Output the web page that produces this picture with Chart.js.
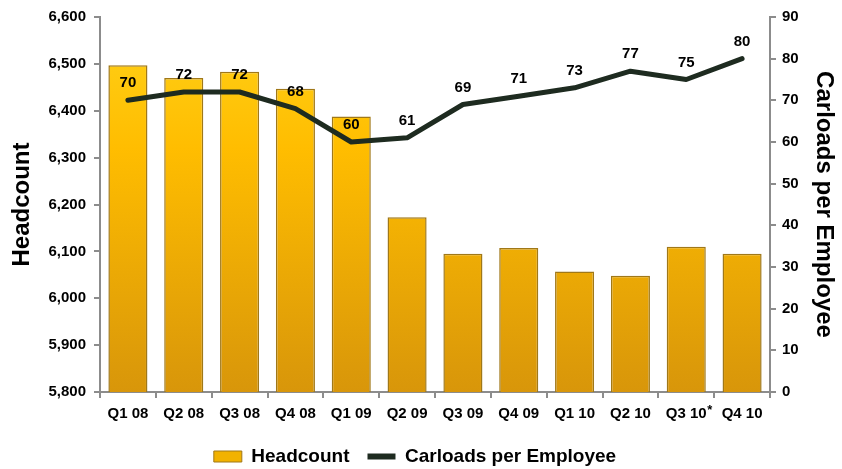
<!DOCTYPE html>
<html>
<head>
<meta charset="utf-8">
<script src="https://cdn.jsdelivr.net/npm/chart.js@4"></script>
<style>
  html, body { margin: 0; padding: 0; background: #fff; }
  #wrap { width: 842px; height: 469px; position: relative; }
</style>
</head>
<body>
<div id="wrap"><canvas id="chart"></canvas></div>
<script>
const quarters = ['Q1 08', 'Q2 08', 'Q3 08', 'Q4 08', 'Q1 09', 'Q2 09', 'Q3 09', 'Q4 09', 'Q1 10', 'Q2 10', 'Q3 10', 'Q4 10'];
const headcount = [6497, 6470, 6483, 6447, 6388, 6173, 6095, 6107, 6057, 6048, 6110, 6095];
const carloads = [70, 72, 72, 68, 60, 61, 69, 71, 73, 77, 75, 80];
const starredQuarter = 'Q3 10';

const FONT = '"Liberation Sans", Arial, sans-serif';

function barFill(ctx) {
    const area = ctx.chart.chartArea;
    if (!area) return '#F5B400';
    const g = ctx.chart.ctx.createLinearGradient(0, area.top, 0, area.bottom);
    g.addColorStop(0, '#FFD21A');
    g.addColorStop(0.35, '#FFBD00');
    g.addColorStop(1, '#D8960A');
    return g;
}

// numbers above the carloads line
const lineLabels = {
    id: 'lineLabels',
    afterDatasetsDraw(chart) {
        const meta = chart.getDatasetMeta(1);
        const c = chart.ctx;
        c.save();
        c.font = 'bold 15px ' + FONT;
        c.fillStyle = '#000';
        c.textAlign = 'center';
        c.textBaseline = 'middle';
        meta.data.forEach((pt, i) => {
            c.fillText(carloads[i], pt.x, pt.y - 17);
        });
        c.restore();
    }
};

// superscript asterisk on one quarter label
const starMark = {
    id: 'starMark',
    afterDraw(chart) {
        const x = chart.scales.x;
        const i = quarters.indexOf(starredQuarter);
        const c = chart.ctx;
        c.save();
        c.font = 'bold 13px ' + FONT;
        c.fillStyle = '#000';
        c.textAlign = 'left';
        c.fillText('*', x.getPixelForValue(i) + 21, x.top + 18);
        c.restore();
    }
};

// put the legend where the original one sits
const legendShift = {
    id: 'legendShift',
    afterLayout(chart) {
        const lg = chart.legend;
        const dy = 429 - lg.top;
        lg.top += dy; lg.bottom += dy;
        lg.left -= 6; lg.right -= 6;
    }
};

new Chart(document.getElementById('chart'), {
    type: 'bar',
    data: {
        labels: quarters,
        datasets: [{
            type: 'bar',
            label: 'Headcount',
            data: headcount,
            yAxisID: 'y',
            backgroundColor: barFill,
            borderColor: '#A07818',
            borderWidth: 1.5,
            barPercentage: 0.7,
            categoryPercentage: 1,
            order: 1
        }, {
            type: 'line',
            label: 'Carloads per Employee',
            data: carloads,
            yAxisID: 'y1',
            borderColor: '#1E2B20',
            backgroundColor: '#1E2B20',
            borderWidth: 5,
            borderCapStyle: 'round',
            borderJoinStyle: 'round',
            pointRadius: 0,
            tension: 0,
            order: 0
        }]
    },
    options: {
        responsive: true,
        maintainAspectRatio: false,
        animation: false,
        layout: { padding: { top: 2, left: 0, right: 0, bottom: 0 } },
        plugins: {
            tooltip: { enabled: false },
            legend: {
                position: 'bottom',
                labels: {
                    font: { family: FONT, size: 19, weight: 'bold' },
                    color: '#000',
                    usePointStyle: true,
                    pointStyleWidth: 28,
                    boxHeight: 11,
                    padding: 18,
                    generateLabels(chart) {
                        return [{
                            text: 'Headcount', datasetIndex: 0, pointStyle: 'rect',
                            fillStyle: '#F2B200', strokeStyle: '#A07818', lineWidth: 1, fontColor: '#000'
                        }, {
                            text: 'Carloads per Employee', datasetIndex: 1, pointStyle: 'line',
                            fillStyle: '#1E2B20', strokeStyle: '#1E2B20', lineWidth: 6, fontColor: '#000'
                        }];
                    }
                }
            }
        },
        scales: {
            x: {
                grid: { display: true, drawOnChartArea: false, color: '#8c8c8c', tickLength: 6, lineWidth: 2 },
                border: { color: '#8c8c8c', width: 2 },
                ticks: { font: { family: FONT, size: 15, weight: 'bold' }, color: '#000', padding: 7, maxRotation: 0 },
                afterFit(scale) { scale.height = 30; }
            },
            y: {
                position: 'left',
                min: 5800, max: 6600,
                ticks: { stepSize: 100, font: { family: FONT, size: 15, weight: 'bold' }, color: '#000', padding: 8 },
                grid: { drawOnChartArea: false, color: '#8c8c8c', tickLength: 6, lineWidth: 2 },
                border: { color: '#8c8c8c', width: 2 },
                title: { display: true, text: 'Headcount', font: { family: FONT, size: 24, weight: 'bold' }, color: '#000', padding: { top: 8, bottom: 4 } },
                afterFit(scale) { scale.width = 100; }
            },
            y1: {
                position: 'right',
                min: 0, max: 90,
                ticks: { stepSize: 10, font: { family: FONT, size: 15, weight: 'bold' }, color: '#000', padding: 6 },
                grid: { drawOnChartArea: false, color: '#8c8c8c', tickLength: 6, lineWidth: 2 },
                border: { color: '#8c8c8c', width: 2 },
                title: { display: true, text: 'Carloads per Employee', font: { family: FONT, size: 24, weight: 'bold' }, color: '#000', padding: { top: 4, bottom: 5 } },
                afterFit(scale) { scale.width = 72; }
            }
        }
    },
    plugins: [lineLabels, starMark, legendShift]
});
</script>
</body>
</html>
